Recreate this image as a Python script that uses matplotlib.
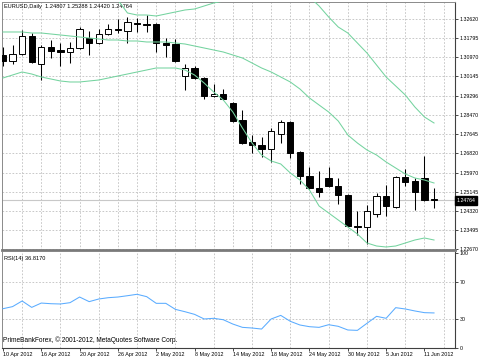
import matplotlib
matplotlib.use("Agg")
import matplotlib.pyplot as plt
import matplotlib.transforms as mtransforms
import numpy as np

plt.rcParams['font.family'] = ['Liberation Sans', 'DejaVu Sans']

# ---------------- data ----------------
opens = [1.31060, 1.30800, 1.31104, 1.31896, 1.30671, 1.31420, 1.31277, 1.31203, 1.31351, 1.31810,
         1.31567, 1.31957, 1.32200, 1.32113, 1.32460, 1.32403, 1.32390, 1.31593, 1.31524, 1.30151,
         1.30497, 1.30051, 1.29271, 1.29358, 1.28994, 1.28245, 1.27279, 1.27149, 1.26975, 1.27625,
         1.28171, 1.26871, 1.25819, 1.25312, 1.25719, 1.25385, 1.24996, 1.23653, 1.23622, 1.24173,
         1.24952, 1.24489, 1.25788, 1.25602, 1.25745, 1.24807]
highs = [1.31407, 1.31494, 1.32143, 1.32000, 1.31494, 1.31710, 1.31593, 1.31637, 1.32286, 1.32113,
         1.32174, 1.32390, 1.32620, 1.32720, 1.32650, 1.32793, 1.32434, 1.31784, 1.31741, 1.30671,
         1.30584, 1.30094, 1.29804, 1.29575, 1.29037, 1.28678, 1.27595, 1.27495, 1.27911, 1.28245,
         1.28201, 1.26902, 1.26195, 1.26035, 1.26221, 1.25719, 1.25018, 1.24281, 1.24562, 1.25095,
         1.25429, 1.25819, 1.26109, 1.25719, 1.26685, 1.25288]
lows = [1.30584, 1.30671, 1.31060, 1.30701, 1.29977, 1.30917, 1.30584, 1.30701, 1.31307, 1.31060,
        1.31524, 1.31927, 1.32000, 1.31567, 1.32070, 1.32044, 1.31203, 1.30961, 1.30770, 1.29544,
        1.30008, 1.29141, 1.29228, 1.29111, 1.28171, 1.27205, 1.26802, 1.26655, 1.26438, 1.27261,
        1.26585, 1.25459, 1.25242, 1.24922, 1.25329, 1.24593, 1.23622, 1.23263, 1.22873, 1.24055,
        1.24086, 1.24419, 1.25398, 1.24346, 1.24757, 1.24420]
closes = [1.30800, 1.31104, 1.31883, 1.30744, 1.31420, 1.31247, 1.31203, 1.31351, 1.32174, 1.31567,
          1.31970, 1.32174, 1.32143, 1.32503, 1.32403, 1.32360, 1.31593, 1.31507, 1.30800, 1.30497,
          1.30051, 1.29284, 1.29358, 1.29154, 1.28214, 1.27261, 1.27162, 1.26975, 1.27781, 1.28171,
          1.26828, 1.25819, 1.25312, 1.25138, 1.25398, 1.24996, 1.23653, 1.23622, 1.24315, 1.24965,
          1.24532, 1.25788, 1.25572, 1.25138, 1.24779, 1.24764]

bb_upper = [1.34050, 1.33963, 1.33876, 1.33876, 1.33963, 1.33963, 1.33920, 1.33876, 1.33833, 1.33790,
            1.33746, 1.33660, 1.33443, 1.32880, 1.32793, 1.32793, 1.32750, 1.32837, 1.32923, 1.33010,
            1.33053, 1.33183, 1.33313, 1.33400, 1.33573, 1.33876, 1.34136, 1.34266, 1.34223, 1.34050,
            1.33876, 1.33790, 1.33573, 1.33183, 1.32707, 1.32273, 1.32013, 1.31580, 1.31147, 1.30627,
            1.30107, 1.29718, 1.29328, 1.28808, 1.28375, 1.28115]
bb_middle = [1.32057, 1.32057, 1.32057, 1.32013, 1.32013, 1.31970, 1.31927, 1.31883, 1.31840, 1.31797,
             1.31754, 1.31710, 1.31710, 1.31667, 1.31667, 1.31624, 1.31624, 1.31624, 1.31580, 1.31537,
             1.31450, 1.31364, 1.31277, 1.31190, 1.31060, 1.30930, 1.30714, 1.30497, 1.30324, 1.30107,
             1.29891, 1.29588, 1.29198, 1.28894, 1.28591, 1.28201, 1.27595, 1.27248, 1.26945, 1.26728,
             1.26425, 1.26165, 1.25905, 1.25732, 1.25645, 1.25515]
bb_lower = [1.30064, 1.30194, 1.30324, 1.30237, 1.30107, 1.30021, 1.29934, 1.29891, 1.29891, 1.29934,
            1.29977, 1.30064, 1.30151, 1.30237, 1.30324, 1.30411, 1.30497, 1.30497, 1.30497, 1.30411,
            1.30194, 1.29847, 1.29458, 1.29111, 1.28591, 1.27898, 1.27248, 1.26728, 1.26469, 1.26339,
            1.25949, 1.25645, 1.25212, 1.24519, 1.24216, 1.23913, 1.23609, 1.23306, 1.22916, 1.22786,
            1.22743, 1.22786, 1.22916, 1.23046, 1.23133, 1.23046]

rsi = [41.3, 43.5, 49.5, 42.7, 47.3, 46.6, 46.3, 47.7, 53.7, 48.8,
       51.6, 53.0, 53.7, 55.1, 56.6, 54.1, 47.0, 47.0, 40.6, 38.1,
       35.3, 30.4, 31.1, 29.6, 25.0, 21.5, 20.8, 19.7, 30.4, 34.2,
       27.9, 24.0, 22.2, 21.5, 24.3, 22.6, 18.7, 18.3, 25.8, 33.2,
       31.1, 42.4, 41.0, 38.9, 37.1, 36.8]

last_price = 1.24764
price_ticks = [1.32620, 1.31795, 1.30970, 1.30145, 1.29296, 1.28470, 1.27645,
               1.26820, 1.25970, 1.25145, 1.24320, 1.23495, 1.22670]
date_pos = [0, 4, 8, 12, 16, 20, 24, 28, 32, 36, 40, 44]
date_labels = ['10 Apr 2012', '16 Apr 2012', '20 Apr 2012', '26 Apr 2012', '2 May 2012',
               '8 May 2012', '14 May 2012', '18 May 2012', '24 May 2012', '30 May 2012',
               '5 Jun 2012', '11 Jun 2012']
title_text = 'EURUSD,Daily  1.24807 1.25288 1.24420 1.24764'
rsi_text = 'RSI(14) 36.8170'
copyright_text = 'PrimeBankForex, \u00a9 2001-2012, MetaQuotes Software Corp.'

# ---------------- figure ----------------
W, H = 480, 360
fig = plt.figure(figsize=(W / 100, H / 100), dpi=100)
fig.patch.set_facecolor('white')

ax = fig.add_axes([2 / W, (H - 250) / H, 453 / W, 248 / H])
ax2 = fig.add_axes([2 / W, (H - 347.6) / H, 453 / W, 95.6 / H])

xlim = (-0.1, 47.19)
grid_kw = dict(color='#bfbfbf', linestyle=(0, (2, 2)), linewidth=0.6)
fs = 3.9
bb_col = '#74d39f'

# main panel
x = np.arange(len(opens))
o = np.array(opens); c = np.array(closes)
ax.vlines(x, lows, highs, color='black', linewidth=0.75, zorder=3)
body_colors = ['white' if cc >= oo else 'black' for oo, cc in zip(opens, closes)]
ax.bar(x, np.abs(c - o), bottom=np.minimum(o, c), width=0.66, color=body_colors,
       edgecolor='black', linewidth=0.7, zorder=4)
for band in (bb_upper, bb_middle, bb_lower):
    ax.plot(x, band, color=bb_col, linewidth=0.75, zorder=5)
ax.axhline(last_price, color='#c8c8c8', linewidth=0.8, zorder=1)

ax.set_xlim(*xlim)
ax.set_ylim(1.22613, 1.33356)
ax.set_yticks(price_ticks)
ax.set_yticklabels(['%.5f' % v for v in price_ticks])
ax.set_xticks(np.arange(2, 47, 2), minor=True)
ax.set_xticks([])
ax.grid(True, which='minor', axis='x', **grid_kw)
ax.grid(True, which='major', axis='y', **grid_kw)
ax.set_axisbelow(True)
ax.yaxis.tick_right()
ax.tick_params(axis='y', which='major', length=2, width=0.5, pad=1.5, labelsize=3.8, colors='black')
ax.tick_params(axis='x', which='minor', length=0)
for s in ('left', 'top'):
    ax.spines[s].set_color('#8a8a8a'); ax.spines[s].set_linewidth(0.7)
ax.spines['right'].set_color('#404040'); ax.spines['right'].set_linewidth(0.8)
ax.spines['bottom'].set_color('#7a7a7a'); ax.spines['bottom'].set_linewidth(2.0)

ax.text(0.0044, 0.981, title_text, transform=ax.transAxes, fontsize=4.1, va='center', ha='left')
trans = mtransforms.blended_transform_factory(ax.transAxes, ax.transData)
ax.text(1.003, last_price, '%.5f' % last_price, transform=trans, fontsize=3.8, color='white',
        va='center', ha='left', zorder=10,
        bbox=dict(boxstyle='square,pad=0.35', fc='black', ec='black'))

# RSI panel
ax2.plot(x, rsi, color='#5aacff', linewidth=0.75, zorder=3)
ax2.set_xlim(*xlim)
ax2.set_ylim(0, 101.5)
ax2.set_yticks([30, 70])
ax2.set_yticks([0, 100], minor=True)
ax2.set_yticklabels(['30', '70'])
ax2.set_yticklabels(['0', '100'], minor=True)
ax2.yaxis.tick_right()
ax2.tick_params(axis='y', which='both', length=2, width=0.5, pad=1.5, labelsize=3.8)
ax2.grid(True, which='major', axis='y', **grid_kw)
ax2.set_xticks(date_pos)
ax2.set_xticklabels(date_labels, ha='left')
ax2.set_xticks(np.arange(2, 47, 2), minor=True)
ax2.grid(True, which='minor', axis='x', **grid_kw)
ax2.tick_params(axis='x', which='major', length=2, width=0.5, pad=1.2, labelsize=fs)
ax2.tick_params(axis='x', which='minor', length=0)
ax2.set_axisbelow(True)
ax2.spines['top'].set_visible(False)
ax2.spines['left'].set_color('#8a8a8a'); ax2.spines['left'].set_linewidth(0.7)
ax2.spines['right'].set_color('#404040'); ax2.spines['right'].set_linewidth(0.8)
ax2.spines['bottom'].set_color('#404040'); ax2.spines['bottom'].set_linewidth(0.8)

ax2.text(0.0044, 0.935, rsi_text, transform=ax2.transAxes, fontsize=4.1, va='center', ha='left')
ax2.text(0.002, 0.08, copyright_text, transform=ax2.transAxes, fontsize=4.7, va='center', ha='left')

fig.savefig('out.png', dpi=100, facecolor='white')
